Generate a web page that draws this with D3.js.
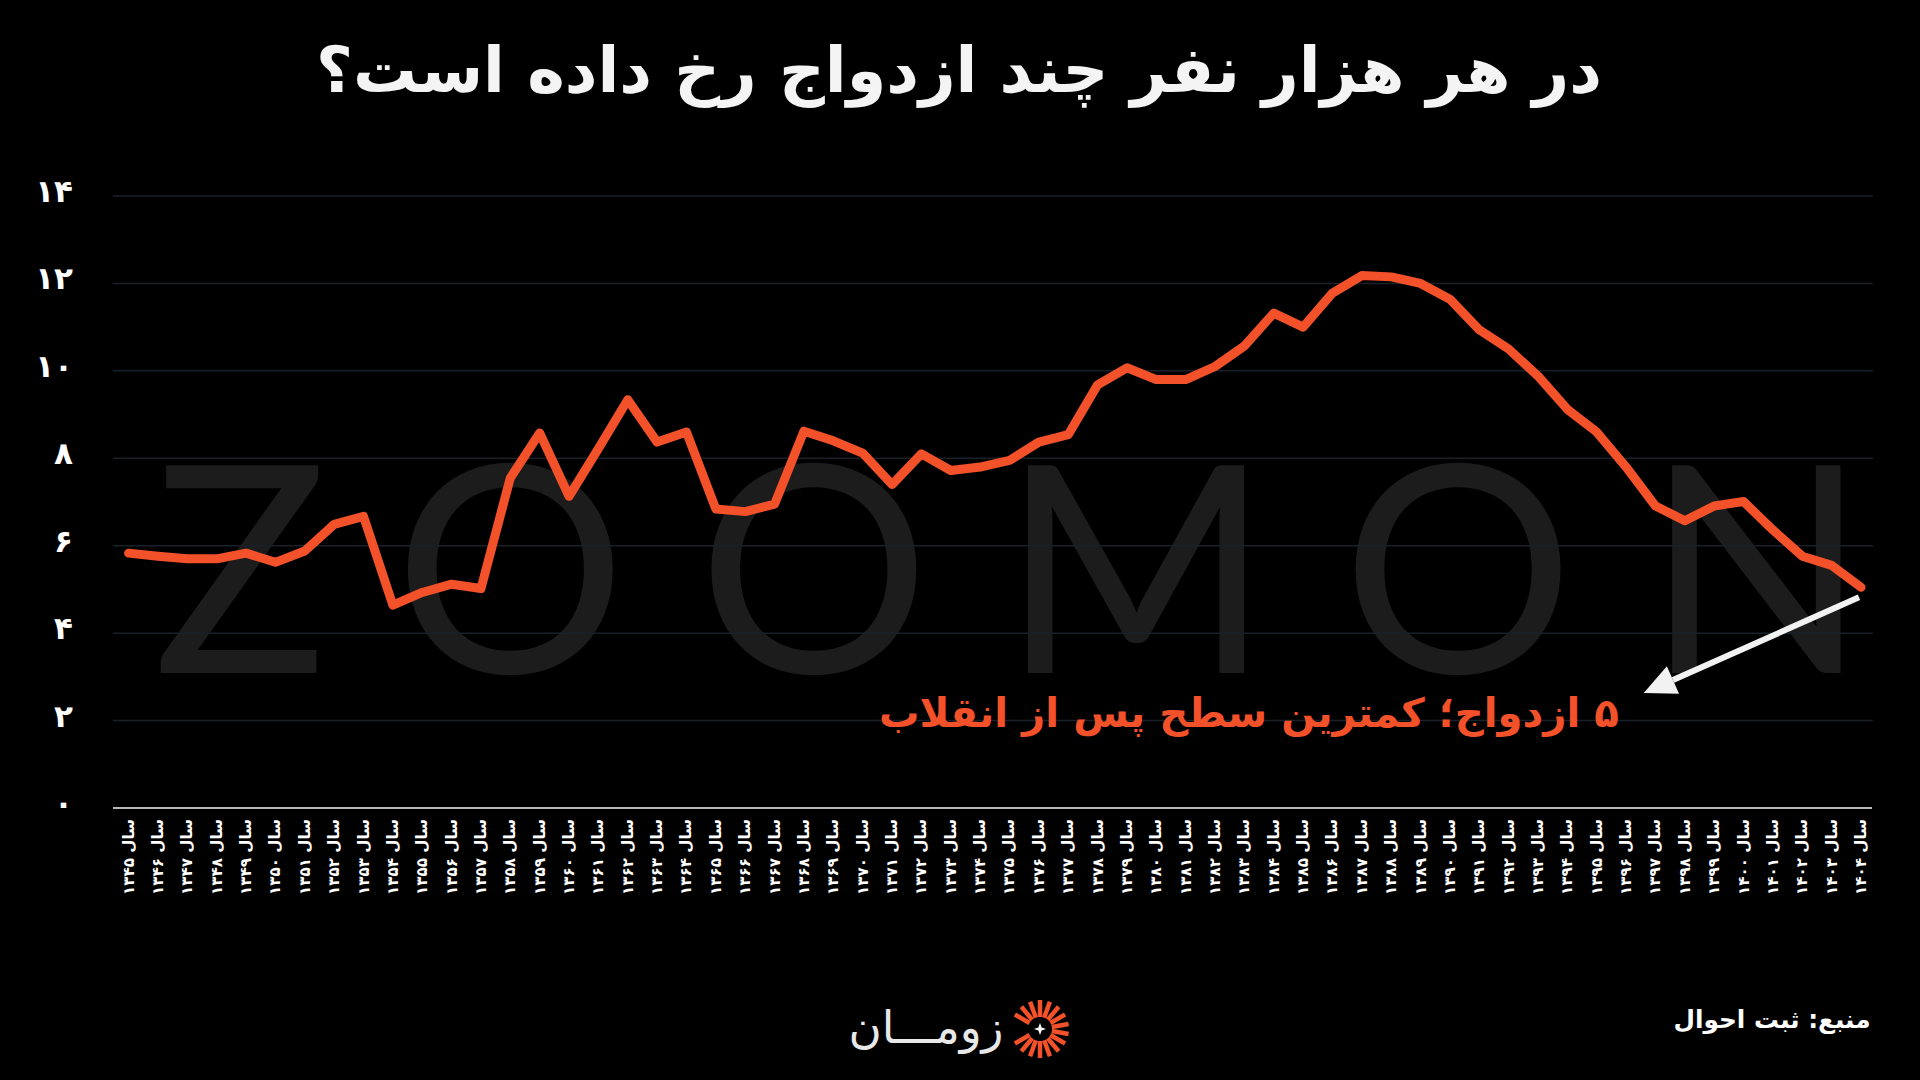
<!DOCTYPE html>
<html>
<head>
<meta charset="utf-8">
<script src="https://cdn.jsdelivr.net/npm/d3@7"></script>
<style>
  html, body { margin: 0; padding: 0; background: #000; }
  svg { display: block; }
</style>
</head>
<body>
<svg id="chart"></svg>
<script>
// Data: marriages per 1000 people, solar years 1345..1404
const years = [1345, 1346, 1347, 1348, 1349, 1350, 1351, 1352, 1353, 1354,
  1355, 1356, 1357, 1358, 1359, 1360, 1361, 1362, 1363, 1364,
  1365, 1366, 1367, 1368, 1369, 1370, 1371, 1372, 1373, 1374,
  1375, 1376, 1377, 1378, 1379, 1380, 1381, 1382, 1383, 1384,
  1385, 1386, 1387, 1388, 1389, 1390, 1391, 1392, 1393, 1394,
  1395, 1396, 1397, 1398, 1399, 1400, 1401, 1402, 1403, 1404];
const rates = [5.83, 5.76, 5.7, 5.7, 5.83, 5.62, 5.88, 6.49, 6.67, 4.64,
  4.93, 5.12, 5.02, 7.55, 8.58, 7.13, 8.22, 9.34, 8.37, 8.6,
  6.84, 6.78, 6.95, 8.62, 8.4, 8.12, 7.4, 8.1, 7.72, 7.8,
  7.95, 8.37, 8.54, 9.68, 10.07, 9.8, 9.8, 10.1, 10.57, 11.32,
  11.0, 11.78, 12.18, 12.15, 12.0, 11.64, 10.94, 10.5, 9.88, 9.12,
  8.6, 7.8, 6.91, 6.57, 6.91, 7.01, 6.36, 5.76, 5.55, 5.05];
const yTicks = [0, 2, 4, 6, 8, 10, 12, 14];

const title = "در هر هزار نفر چند ازدواج رخ داده است؟";
const note = "۵ ازدواج؛ کمترین سطح پس از انقلاب";
const source = "منبع: ثبت احوال";
const brand = "زومـــان";

const W = 1920, H = 1080;
const fa = "'DejaVu Sans', sans-serif";
const lineColor = "#f2512a";

// persian digits
const toFa = n => String(n).replace(/\d/g, d => "۰۱۲۳۴۵۶۷۸۹"[d]);

// shrink/grow font so the text takes the given width
function fit(sel, width) {
  const fs = parseFloat(sel.attr("font-size"));
  const len = sel.node().getComputedTextLength();
  sel.attr("font-size", (fs * width / len).toFixed(2));
}

const svg = d3.select("#chart").attr("width", W).attr("height", H);
svg.append("rect").attr("width", W).attr("height", H).attr("fill", "#000");

// Scales
const x = d3.scalePoint().domain(years).range([128.6, 1861]);
const y = d3.scaleLinear().domain([0, 14]).range([808, 196]);
const xAt = i => x(years[0]) + i * x.step();

// Watermark
svg.append("text")
  .attr("x", 153).attr("y", 673)
  .attr("font-family", "Lato, 'Open Sans', sans-serif")
  .attr("font-weight", 400)
  .attr("font-size", 290)
  .attr("fill", "#1c1c1c")
  .attr("textLength", 1714)
  .attr("lengthAdjust", "spacing")
  .text("ZOOMON");

// Gridlines
svg.append("g")
  .selectAll("line")
  .data(yTicks.filter(d => d > 0))
  .join("line")
  .attr("x1", 113).attr("x2", 1873)
  .attr("y1", d => y(d)).attr("y2", d => y(d))
  .attr("stroke", "#18202a")
  .attr("stroke-width", 1.5);

// X axis line
svg.append("line")
  .attr("x1", 113).attr("x2", 1872)
  .attr("y1", y(0)).attr("y2", y(0))
  .attr("stroke", "#b8b8b8")
  .attr("stroke-width", 2);

// Y labels
svg.append("g")
  .selectAll("text")
  .data(yTicks)
  .join("text")
  .attr("x", 73)
  .attr("y", d => y(d) - 5)
  .attr("text-anchor", "end")
  .attr("dominant-baseline", "central")
  .attr("font-family", fa)
  .attr("font-weight", "bold")
  .attr("font-size", 31)
  .attr("fill", "#fff")
  .text(d => toFa(d));

// X labels (rotated)
const xl = svg.append("g")
  .selectAll("text")
  .data(years)
  .join("text")
  .attr("transform", d => `translate(${x(d)},819) rotate(-90)`)
  .attr("text-anchor", "end")
  .attr("dominant-baseline", "central")
  .attr("font-family", fa)
  .attr("font-weight", "bold")
  .attr("font-size", 18)
  .attr("fill", "#fff")
  .text(d => "سال " + toFa(d));
{
  const len = xl.node().getComputedTextLength();
  xl.attr("font-size", (18 * 76 / len).toFixed(2));
}

// Line
const line = d3.line()
  .x((d, i) => x(years[i]))
  .y(d => y(d));

svg.append("path")
  .datum(rates)
  .attr("fill", "none")
  .attr("stroke", lineColor)
  .attr("stroke-width", 9)
  .attr("stroke-linejoin", "round")
  .attr("stroke-linecap", "round")
  .attr("d", line);

// Annotation arrow
const last = years.length - 1;
const a0 = [x(years[last]) - 2, y(4.82)];
const a1 = [xAt(51.6), y(2.63)];
const ang = Math.atan2(a1[1] - a0[1], a1[0] - a0[0]);
const headLen = 32, headW = 15;
const base = [a1[0] - headLen * Math.cos(ang), a1[1] - headLen * Math.sin(ang)];
svg.append("line")
  .attr("x1", a0[0]).attr("y1", a0[1])
  .attr("x2", base[0]).attr("y2", base[1])
  .attr("stroke", "#f2f2f2")
  .attr("stroke-width", 6);
svg.append("path")
  .attr("d", d3.line()([
    a1,
    [base[0] + headW * Math.sin(ang), base[1] - headW * Math.cos(ang)],
    [base[0] - headW * Math.sin(ang), base[1] + headW * Math.cos(ang)]
  ]) + "Z")
  .attr("fill", "#f2f2f2");

const noteText = svg.append("text")
  .attr("x", 1249).attr("y", 713)
  .attr("direction", "rtl")
  .attr("text-anchor", "middle")
  .attr("dominant-baseline", "central")
  .attr("font-family", fa)
  .attr("font-weight", "bold")
  .attr("font-size", 40)
  .attr("fill", lineColor)
  .text(note);
fit(noteText, 740);

// Title
const titleText = svg.append("text")
  .attr("x", 959).attr("y", 70)
  .attr("direction", "rtl")
  .attr("text-anchor", "middle")
  .attr("dominant-baseline", "central")
  .attr("font-family", fa)
  .attr("font-weight", "bold")
  .attr("font-size", 60)
  .attr("fill", "#f4f4f4")
  .text(title);
fit(titleText, 1286);

// Source
const src = svg.append("text")
  .attr("x", 1772).attr("y", 1019)
  .attr("direction", "rtl")
  .attr("text-anchor", "middle")
  .attr("dominant-baseline", "central")
  .attr("font-family", fa)
  .attr("font-weight", "bold")
  .attr("font-size", 26)
  .attr("fill", "#fff")
  .text(source);
fit(src, 197);

// Brand logo
const logo = svg.append("g");
const brandText = logo.append("text")
  .attr("x", 926).attr("y", 1027)
  .attr("direction", "rtl")
  .attr("text-anchor", "middle")
  .attr("dominant-baseline", "central")
  .attr("font-family", fa)
  .attr("font-weight", "normal")
  .attr("font-size", 44)
  .attr("fill", "#e8e8e8")
  .text(brand);
fit(brandText, 155);

const ic = [1040, 1029];
const rayAngles = d3.range(-150, 151, 20);
logo.append("g")
  .selectAll("line")
  .data(rayAngles)
  .join("line")
  .attr("x1", a => ic[0] + 12 * Math.cos(a * Math.PI / 180))
  .attr("y1", a => ic[1] + 12 * Math.sin(a * Math.PI / 180))
  .attr("x2", a => ic[0] + 29 * Math.cos(a * Math.PI / 180))
  .attr("y2", a => ic[1] + 29 * Math.sin(a * Math.PI / 180))
  .attr("stroke", lineColor)
  .attr("stroke-width", 4.5);
logo.append("path")
  .attr("transform", `translate(${ic[0]},${ic[1]})`)
  .attr("d", "M0,-6 L1.6,-1.6 L6,0 L1.6,1.6 L0,6 L-1.6,1.6 L-6,0 L-1.6,-1.6 Z")
  .attr("fill", "#fff");
</script>
</body>
</html>
